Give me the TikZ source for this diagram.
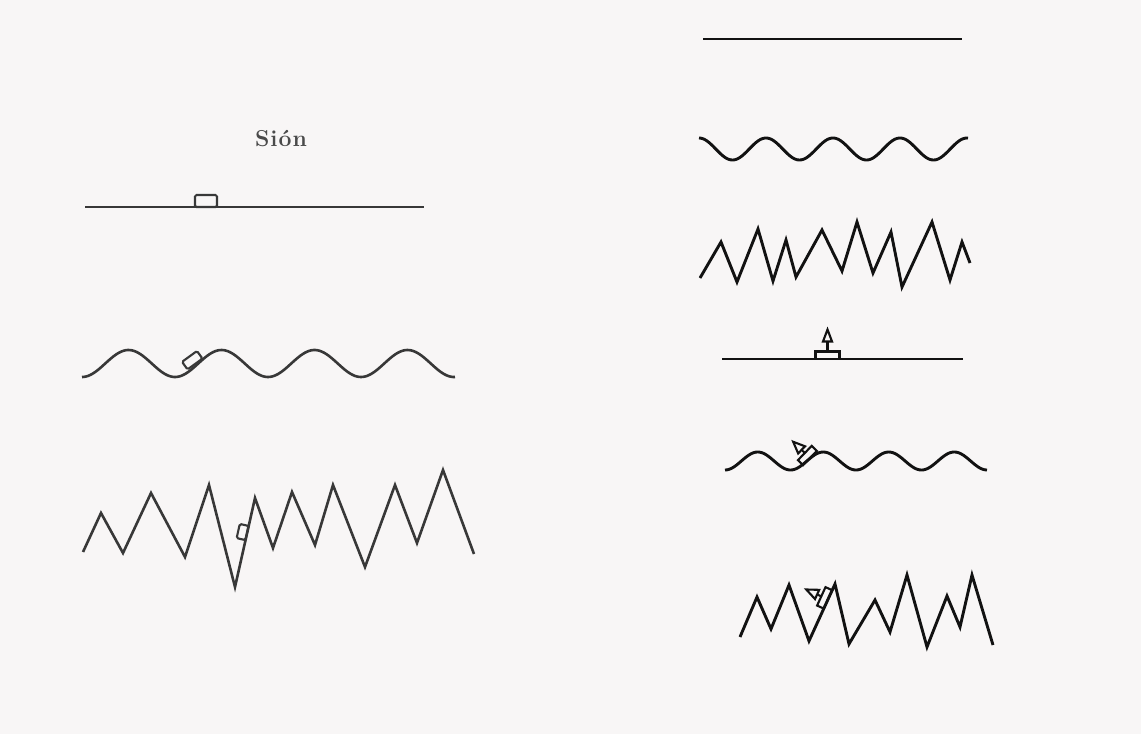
\documentclass[tikz,border=0pt]{standalone}
\usepackage{fontspec}
\definecolor{bg}{HTML}{F8F6F6}
\definecolor{lgray}{HTML}{383838}
\definecolor{rblack}{HTML}{121212}
\definecolor{tgray}{HTML}{4A4A4A}
\tikzset{
  leftline/.style={draw=lgray, line width=2.6pt, line join=miter, line cap=butt},
  rightline/.style={draw=rblack, line width=2.9pt, line join=miter, line cap=butt},
  boxline/.style={draw=lgray, line width=2.1pt},
  boatline/.style={draw=rblack, line width=2.1pt},
  lbox/.pic={\draw[boxline, rounded corners=1.5pt] (-11,-12) rectangle (11,0);},
  boat/.pic={
    \draw[boatline] (-12,-7.5) rectangle (12,0);
    \draw[boatline] (0,-7.5) -- (0,-17.5);
    \draw[boatline, line join=miter] (-4.5,-17.5) -- (4.5,-17.5) -- (0,-29.5) -- cycle;
  },
  tboat/.pic={
    \draw[boatline] (-11,-8) rectangle (11,0);
    \draw[boatline] (0,-8) -- (0,-13);
    \draw[boatline, line join=miter] (-5.5,-13) -- (5.5,-13) -- (0,-26) -- cycle;
  }
}
\begin{document}
\begin{tikzpicture}[x=1pt,y=-1pt]
\fill[bg] (0,0) rectangle (1141,734);
\useasboundingbox (0,0) rectangle (1141,734);

% ---------- left column ----------
\node[text=tgray, font=\fontsize{23}{27}\selectfont\bfseries] (sion) at (281,139)
  {S\kern1pt i\kern1pt ó\kern1pt n};

\coordinate (l1a) at (85,207);
\coordinate (l1b) at (424,207);
\draw[leftline] (l1a) -- (l1b);
\pic at (206,207) {lbox};

\draw[leftline] plot[domain=82:455, samples=180, smooth]
  (\x,{363.5+13.5*cos(3.87097*(\x-82))});
\pic[rotate=36, xscale=0.84, yscale=0.78] at (195,364) {lbox};

\draw[leftline] (83,552) -- (101,513) -- (123,553) -- (151,493) -- (185,557)
  -- (209,485) -- (235,587) -- (255,498) -- (273,548) -- (292,492) -- (315,545)
  -- (333,485) -- (365,567) -- (395,485) -- (417,543) -- (443,470) -- (474,554);
\pic[rotate=77.3, xscale=0.66, yscale=0.75] at (247,533) {lbox};

% ---------- right column ----------
\coordinate (r1a) at (703,39);
\coordinate (r1b) at (962,39);
\draw[rightline] (r1a) -- (r1b);

\draw[rightline] plot[domain=699:968, samples=180, smooth]
  (\x,{149-11*cos(5.37313*(\x-699))});

\draw[rightline] (700,278) -- (721,242) -- (737,282) -- (758,229) -- (773,281)
  -- (786,240) -- (796,277) -- (822,230) -- (842,271) -- (857,222) -- (873,273)
  -- (891,232) -- (902,287) -- (932,222) -- (950,280) -- (962,242) -- (970,263);

\coordinate (r4a) at (722,359);
\coordinate (r4b) at (963,359);
\draw[rightline] (r4a) -- (r4b);
\pic at (827.5,359) {boat};

\draw[rightline] plot[domain=725:987, samples=180, smooth]
  (\x,{461+9*cos(5.49618*(\x-725))});
\pic[rotate=46, scale=0.9] at (810,458) {tboat};

\draw[rightline] (740,637) -- (757,597) -- (771,629) -- (789,585) -- (809,641)
  -- (835,584) -- (849,644) -- (875,600) -- (890,632) -- (907,575) -- (927,647)
  -- (947,596) -- (960,627) -- (972,575) -- (993,645);
\pic[rotate=65.5, scale=0.92] at (828,599.4) {tboat};
\end{tikzpicture}
\end{document}
